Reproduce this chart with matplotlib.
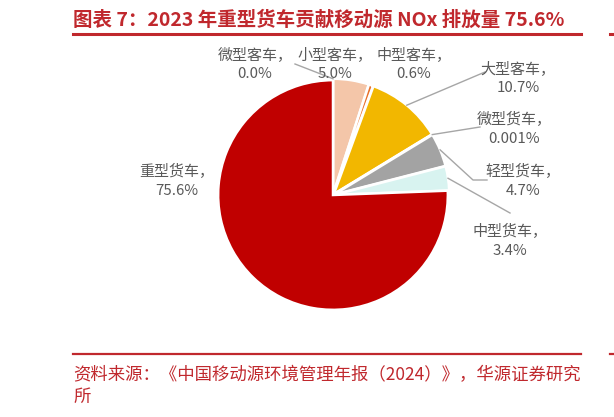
import numpy as np
import matplotlib
matplotlib.use("Agg")
import matplotlib.pyplot as plt
from matplotlib.lines import Line2D

plt.rcParams['font.family'] = ['Noto Sans CJK SC', 'DejaVu Sans']

# ---- data ----
categories = ['微型客车', '小型客车', '中型客车', '大型客车', '微型货车', '轻型货车', '中型货车', '重型货车']
shares = [0.0, 5.0, 0.6, 10.7, 0.001, 4.7, 3.4, 75.6]
colors = ['#F4C6A9', '#F4C6A9', '#E8702A', '#F2B700', '#7F7F7F', '#A3A3A3', '#D8F3F0', '#C00000']

title = '图表 7：2023 年重型货车贡献移动源 NOx 排放量 75.6%'
source_line1 = '资料来源：《中国移动源环境管理年报（2024）》，华源证券研究'
source_line2 = '所'

W, H = 614, 417
fig = plt.figure(figsize=(W / 100, H / 100), dpi=100)


def fx(x):
    return x / W


def fy(y):
    return 1 - y / H


# pie axes (center ~ (333,195) px, radius ~116 px)
cx, cy, R = 333, 195, 116
ax = fig.add_axes([fx(cx - R), fy(cy + R), 2 * R / W, 2 * R / H])
explode = [0.012] * 7 + [0.0]
wedges, _ = ax.pie(shares, colors=colors, startangle=90, counterclock=False,
                   explode=explode, radius=0.99,
                   wedgeprops=dict(edgecolor='white', linewidth=1.8))
ax.set_xlim(-1.0, 1.0)
ax.set_ylim(-1.0, 1.0)
ax.set_aspect('equal')
ax.axis('off')


def fmt(v):
    return f'{v:.3f}%' if 0 < v < 0.01 else f'{v:.1f}%'


label_pos = {
    '微型客车': (255, 64),
    '小型客车': (335, 64),
    '中型客车': (414, 64),
    '大型客车': (518, 78),
    '微型货车': (514, 129),
    '轻型货车': (523, 181),
    '中型货车': (510, 241),
    '重型货车': (177, 181),
}

txtcol = '#595959'
for cat, v in zip(categories, shares):
    x, y = label_pos[cat]
    fig.text(fx(x), fy(y), f'{cat}，\n{fmt(v)}', ha='center', va='center',
             fontsize=10.8, color=txtcol, linespacing=1.4)


# leader lines from wedge to label
def wedge_point(i, r=1.0):
    w = wedges[i]
    ang = np.deg2rad((w.theta1 + w.theta2) / 2)
    cxd, cyd = w.center
    p = ax.transData.transform((cxd + r * np.cos(ang), cyd + r * np.sin(ang)))
    return fig.transFigure.inverted().transform(p)


leader_targets = {
    0: [(295, 64)],
    3: [(485, 72)],
    4: [(480, 127)],
    5: [(473, 180), (487, 180)],
    6: [(510, 213)],
}
for i, pts in leader_targets.items():
    p0 = wedge_point(i, 0.99)
    xs = [p0[0]] + [fx(p[0]) for p in pts]
    ys = [p0[1]] + [fy(p[1]) for p in pts]
    fig.add_artist(Line2D(xs, ys, transform=fig.transFigure, color='#A6A6A6', lw=1.0))

red = '#C0282D'
# title
fig.text(fx(73), fy(20), title, ha='left', va='center', fontsize=14, fontweight='bold', color=red)
fig.add_artist(Line2D([fx(73), fx(581)], [fy(34), fy(34)], transform=fig.transFigure, color=red, lw=2.2))
fig.add_artist(Line2D([fx(610), fx(620)], [fy(34), fy(34)], transform=fig.transFigure, color=red, lw=2.2))

# source
fig.add_artist(Line2D([fx(73), fx(581)], [fy(354), fy(354)], transform=fig.transFigure, color=red, lw=1.6))
fig.add_artist(Line2D([fx(610), fx(620)], [fy(354), fy(354)], transform=fig.transFigure, color=red, lw=1.6))
fig.text(fx(73), fy(375), source_line1, ha='left', va='center', fontsize=12.5, color=red)
fig.text(fx(73), fy(397), source_line2, ha='left', va='center', fontsize=12.5, color=red)

fig.savefig('out.png', dpi=100)
